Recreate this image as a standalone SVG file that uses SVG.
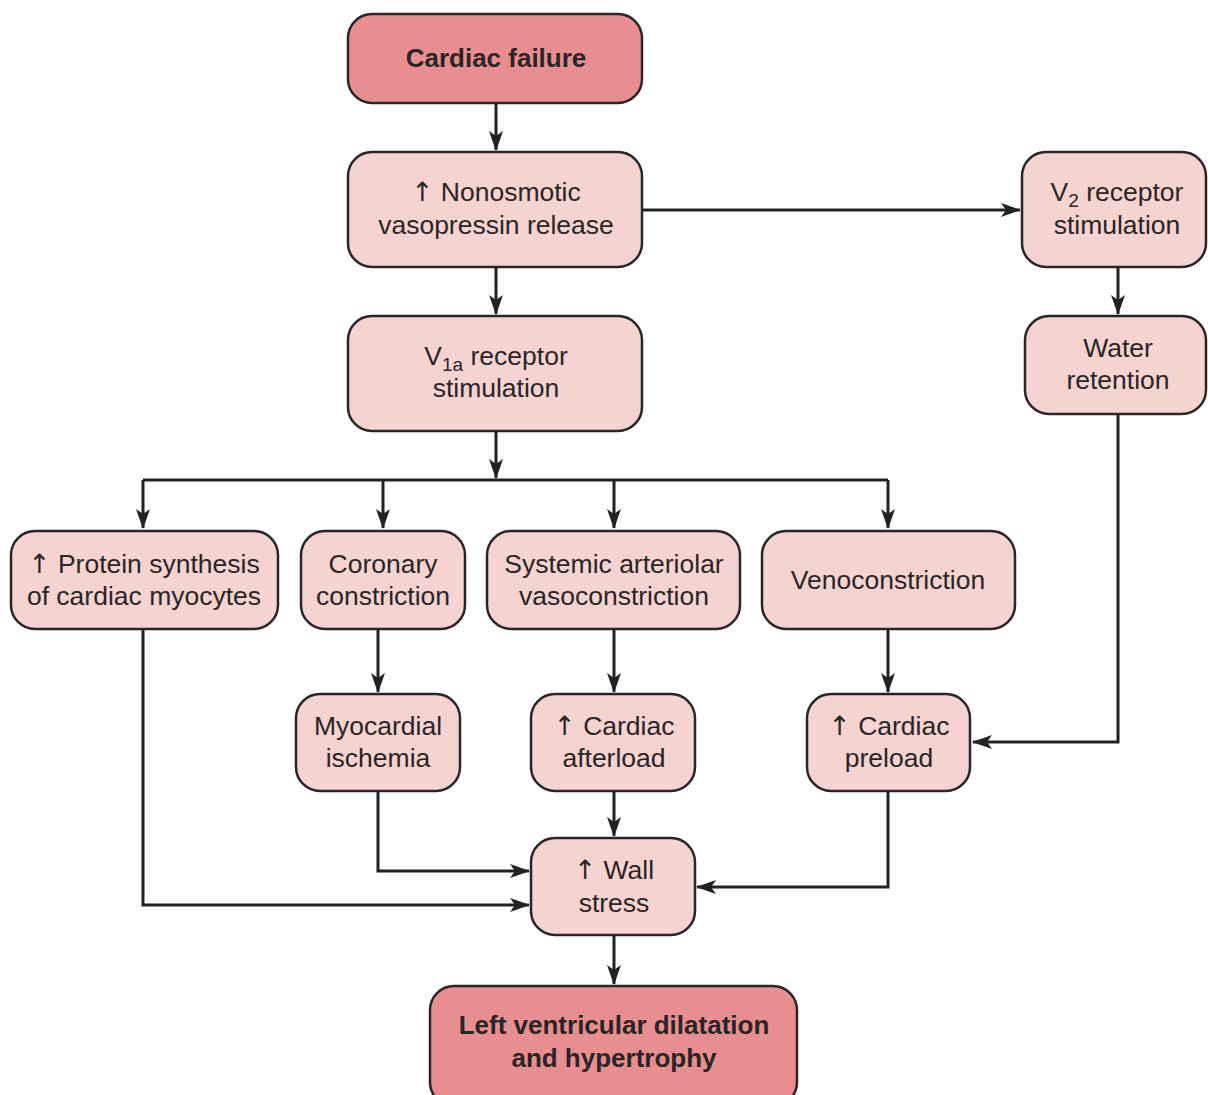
<svg xmlns="http://www.w3.org/2000/svg" width="1208" height="1095" viewBox="0 0 1208 1095">
  <defs>
    <marker id="arr" viewBox="0 0 20 14" refX="19" refY="7" markerWidth="20" markerHeight="14" markerUnits="userSpaceOnUse" orient="auto">
      <path d="M0,0 L20,7 L0,14 L5,7 Z" fill="#222"/>
    </marker>
  </defs>
  <style>
    .box { fill: #f5d3d0; stroke: #2a2526; stroke-width: 2.5; }
    .key { fill: #e98e90; stroke: #2a2526; stroke-width: 2.5; }
    .t { font-family: "Liberation Sans", Arial, sans-serif; font-size: 26.5px; fill: #2a2526; text-anchor: middle; }
    .b { font-weight: bold; font-size: 26px; }
    .sub { font-size: 19px; }
    .up { font-family: "DejaVu Sans", sans-serif; font-weight: normal; }
    .edge { fill: none; stroke: #222; stroke-width: 3; marker-end: url(#arr); }
  </style>
  <rect width="1208" height="1095" fill="#ffffff"/>

  <g id="connectors">
    <path class="edge" d="M496,103 V150"/>
    <path class="edge" d="M496,267 V314"/>
    <path class="edge" d="M642,210 H1020"/>
    <path class="edge" d="M1118,267 V314"/>
    <path class="edge" d="M496,431 V478"/>
    <path fill="none" stroke="#222" stroke-width="3" d="M143,480 H888"/>
    <path class="edge" d="M143,480 V528"/>
    <path class="edge" d="M383,480 V528"/>
    <path class="edge" d="M614,480 V528"/>
    <path class="edge" d="M888,480 V528"/>
    <path class="edge" d="M378,629 V692"/>
    <path class="edge" d="M614,629 V692"/>
    <path class="edge" d="M888,629 V692"/>
    <path class="edge" d="M1118,414 V742 H973"/>
    <path class="edge" d="M143,629 V905 H529"/>
    <path class="edge" d="M378,791 V871 H529"/>
    <path class="edge" d="M614,791 V836"/>
    <path class="edge" d="M888,791 V887 H697"/>
    <path class="edge" d="M614,935 V984"/>
  </g>

  <g id="cardiac-failure">
    <rect class="key" x="348" y="14" width="294" height="89" rx="24"/>
    <text class="t b" x="496" y="67">Cardiac failure</text>
  </g>
  <g id="vasopressin-release">
    <rect class="box" x="348" y="152" width="294" height="115" rx="24"/>
    <text class="t" x="496" y="201"><tspan class="up">↑</tspan> Nonosmotic</text>
    <text class="t" x="496" y="234">vasopressin release</text>
  </g>
  <g id="v1a-stimulation">
    <rect class="box" x="348" y="316" width="294" height="115" rx="24"/>
    <text class="t" x="496" y="365">V<tspan class="sub" dy="6">1a</tspan><tspan dy="-6"> receptor</tspan></text>
    <text class="t" x="496" y="397">stimulation</text>
  </g>
  <g id="v2-stimulation">
    <rect class="box" x="1022" y="152" width="184" height="115" rx="24"/>
    <text class="t" x="1117" y="201">V<tspan class="sub" dy="6">2</tspan><tspan dy="-6"> receptor</tspan></text>
    <text class="t" x="1117" y="234">stimulation</text>
  </g>
  <g id="water-retention">
    <rect class="box" x="1025" y="316" width="181" height="98" rx="24"/>
    <text class="t" x="1118" y="357">Water</text>
    <text class="t" x="1118" y="389">retention</text>
  </g>
  <g id="protein-synthesis">
    <rect class="box" x="11" y="531" width="267" height="98" rx="24"/>
    <text class="t" x="144" y="573"><tspan class="up">↑</tspan> Protein synthesis</text>
    <text class="t" x="144" y="605">of cardiac myocytes</text>
  </g>
  <g id="coronary-constriction">
    <rect class="box" x="301" y="531" width="164" height="98" rx="24"/>
    <text class="t" x="383" y="573">Coronary</text>
    <text class="t" x="383" y="605">constriction</text>
  </g>
  <g id="arteriolar-vasoconstriction">
    <rect class="box" x="487" y="531" width="253" height="98" rx="24"/>
    <text class="t" x="614" y="573">Systemic arteriolar</text>
    <text class="t" x="614" y="605">vasoconstriction</text>
  </g>
  <g id="venoconstriction">
    <rect class="box" x="762" y="531" width="253" height="98" rx="24"/>
    <text class="t" x="888" y="589">Venoconstriction</text>
  </g>
  <g id="myocardial-ischemia">
    <rect class="box" x="296" y="694" width="164" height="97" rx="24"/>
    <text class="t" x="378" y="735">Myocardial</text>
    <text class="t" x="378" y="767">ischemia</text>
  </g>
  <g id="cardiac-afterload">
    <rect class="box" x="531" y="694" width="164" height="97" rx="24"/>
    <text class="t" x="614" y="735"><tspan class="up">↑</tspan> Cardiac</text>
    <text class="t" x="614" y="767">afterload</text>
  </g>
  <g id="cardiac-preload">
    <rect class="box" x="807" y="694" width="163" height="97" rx="24"/>
    <text class="t" x="889" y="735"><tspan class="up">↑</tspan> Cardiac</text>
    <text class="t" x="889" y="767">preload</text>
  </g>
  <g id="wall-stress">
    <rect class="box" x="531" y="838" width="164" height="97" rx="24"/>
    <text class="t" x="614" y="879"><tspan class="up">↑</tspan> Wall</text>
    <text class="t" x="614" y="912">stress</text>
  </g>
  <g id="lv-dilatation">
    <rect class="key" x="430" y="986" width="367" height="120" rx="24"/>
    <text class="t b" x="614" y="1034">Left ventricular dilatation</text>
    <text class="t b" x="614" y="1067">and hypertrophy</text>
  </g>
</svg>
